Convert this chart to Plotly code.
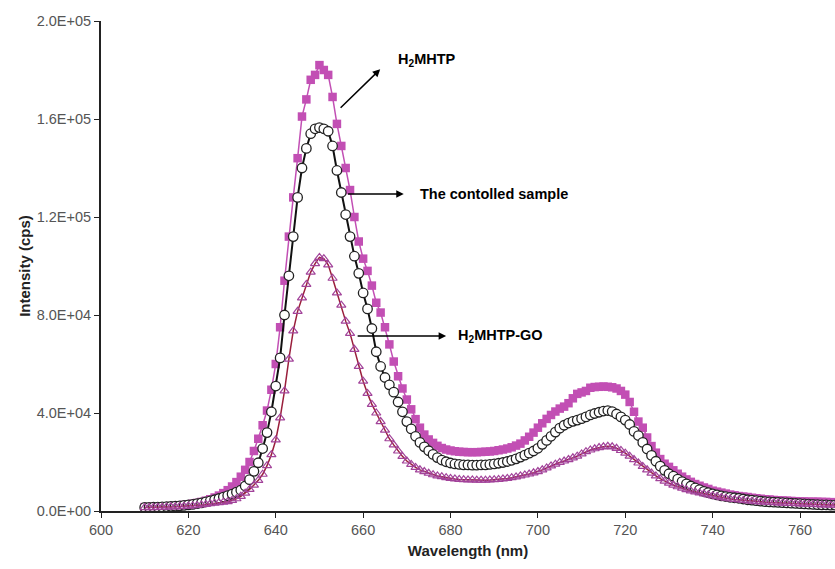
import plotly.graph_objects as go

wavelength = list(range(610, 771))

# H2MHTP (filled magenta squares), units of 1e3 cps
h2mhtp_k = [
    1.6, 1.6, 1.7, 1.7, 1.8, 1.9, 2.0, 2.1, 2.3, 2.5,          # 610-619
    2.7, 3.0, 3.3, 3.7, 4.2, 4.8, 5.5, 6.3, 7.3, 8.5,          # 620-629
    10.0, 11.8, 14.0, 16.8, 20.0, 24.5, 29.5, 35.0, 41.0, 49.5, # 630-639
    60.0, 75.0, 94.0, 112, 128, 144, 161, 168, 176, 178,        # 640-649
    182, 180, 178, 169, 158, 149, 140, 131, 120, 110,           # 650-659
    103, 98, 92, 85, 81, 75, 68, 61, 55, 50,                    # 660-669
    45.5, 41.5, 37.5, 34.0, 31.2, 29.2, 27.8, 26.6, 25.7, 25.1, # 670-679
    24.7, 24.4, 24.2, 24.1, 24.0, 24.0, 24.0, 24.1, 24.2, 24.3, # 680-689
    24.5, 24.8, 25.1, 25.5, 26.0, 26.7, 27.5, 28.8, 30.3, 32.0, # 690-699
    34.0, 35.8, 37.6, 39.2, 40.6, 41.8, 42.6, 44.0, 46.0, 47.8, # 700-709
    48.4, 49.0, 50.3, 50.6, 50.7, 50.8, 50.7, 50.5, 50.0, 49.0, # 710-719
    47.5, 44.5, 40.5, 36.5, 34.0, 30.0, 26.5, 23.8, 21.2, 19.3, # 720-729
    18.0, 16.6, 15.2, 14.0, 12.9, 11.9, 11.0, 10.3, 9.6, 9.0,   # 730-739
    8.3, 7.9, 7.5, 7.1, 6.7, 6.4, 6.1, 5.9, 5.7, 5.4,           # 740-749
    5.2, 5.0, 4.8, 4.7, 4.5, 4.4, 4.3, 4.2, 4.1, 4.0,           # 750-759
    3.9, 3.9, 3.8, 3.8, 3.8, 3.7, 3.7, 3.6, 3.6, 3.5,           # 760-769
    3.5,                                                        # 770
]

# Controlled sample (open circles, black line)
control_k = [
    1.5, 1.5, 1.6, 1.6, 1.7, 1.8, 1.9, 2.0, 2.1, 2.3,
    2.5, 2.7, 3.0, 3.3, 3.7, 4.1, 4.6, 5.1, 5.7, 6.3,
    6.9, 7.7, 8.5, 10.2, 12.8, 16.2, 19.7, 25.5, 32.0, 40.5,
    51.0, 62.5, 80.0, 96, 112, 128, 140, 148, 154, 156,
    156.5, 156, 155, 149, 139, 130, 121, 112, 104, 97,
    89, 82.5, 74.5, 65, 59, 54.5, 51.5, 48.5, 44.5, 40.5,
    36.5, 33.5, 30.5, 28.0, 26.2, 24.6, 23.1, 21.8, 20.8, 20.1,
    19.6, 19.2, 19.0, 18.8, 18.8, 18.7, 18.7, 18.8, 18.8, 19.0,
    19.2, 19.5, 19.8, 20.2, 20.7, 21.3, 22.0, 22.8, 23.6, 24.5,
    25.6, 27.2, 28.8, 30.5, 32.2, 33.8, 35.0, 35.9, 36.6, 37.1,
    37.7, 38.4, 39.2, 39.8, 40.3, 40.8, 41.0, 40.6, 39.6, 38.4,
    37.1, 35.3, 32.5, 30.8, 28.0, 25.3, 22.7, 20.3, 18.3, 16.6,
    15.2, 14.2, 13.0, 12.0, 11.1, 10.2, 9.4, 8.7, 8.0, 7.5,
    7.0, 6.6, 6.2, 5.9, 5.6, 5.4, 5.2, 4.9, 4.6, 4.4,
    4.2, 4.0, 3.8, 3.7, 3.6, 3.5, 3.4, 3.3, 3.2, 3.1,
    3.0, 2.9, 2.8, 2.7, 2.6, 2.5, 2.5, 2.4, 2.4, 2.3,
    2.3,
]

# H2MHTP-GO (open triangles, dark red line)
go_k = [
    1.4, 1.4, 1.4, 1.5, 1.5, 1.6, 1.7, 1.7, 1.8, 1.9,
    2.0, 2.1, 2.3, 2.5, 2.7, 3.0, 3.2, 3.4, 3.6, 3.8,
    4.3, 5.0, 6.0, 7.3, 8.8, 10.6, 12.5, 15.0, 18.5, 23.0,
    29.0, 38.0, 49.0, 62.0, 73.5, 81.5, 87.0, 92.5, 97.5, 101.0,
    103.5, 103.0, 100.5, 95.0, 89.0, 84.0, 77.5, 72.5, 66.0, 59.0,
    53.0, 48.0, 43.5, 40.0, 36.5, 33.0, 29.5, 27.0, 24.5, 22.3,
    20.4, 19.0, 17.8, 16.8, 16.1, 15.4, 14.8, 14.3, 14.0, 13.6,
    13.3, 13.1, 12.9, 12.8, 12.7, 12.7, 12.6, 12.6, 12.6, 12.7,
    12.8, 12.9, 13.1, 13.3, 13.6, 13.9, 14.3, 14.7, 15.1, 15.6,
    16.1, 16.8, 17.6, 18.4, 19.1, 19.8, 20.4, 21.0, 21.7, 22.4,
    23.3, 24.2, 24.9, 25.4, 25.9, 26.2, 26.4, 26.2, 25.6, 24.7,
    23.6, 22.4, 21.0, 19.6, 18.2, 16.8, 15.5, 14.3, 13.2, 12.2,
    11.4, 10.6, 9.9, 9.3, 8.7, 8.2, 7.8, 7.4, 7.0, 6.6,
    6.2, 5.9, 5.5, 5.2, 4.9, 4.7, 4.5, 4.3, 4.1, 4.0,
    3.8, 3.7, 3.6, 3.5, 3.4, 3.3, 3.2, 3.1, 3.1, 3.0,
    2.9, 2.8, 2.8, 2.7, 2.6, 2.5, 2.5, 2.4, 2.4, 2.3,
    2.3,
]

y_tickvals = [0, 40000, 80000, 120000, 160000, 200000]
y_ticktext = ["0.0E+00", "4.0E+04", "8.0E+04", "1.2E+05", "1.6E+05", "2.0E+05"]
x_tickvals = [600, 620, 640, 660, 680, 700, 720, 740, 760]

h2mhtp = [v * 1000 for v in h2mhtp_k]
control = [v * 1000 for v in control_k]
go_vals = [v * 1000 for v in go_k]

fig = go.Figure()
fig.add_trace(go.Scatter(
    x=wavelength, y=h2mhtp, mode="lines+markers", name="H2MHTP",
    line=dict(color="#C24FB4", width=1.5),
    marker=dict(symbol="square", size=8.5, color="#C24FB4", line=dict(width=0)),
))
fig.add_trace(go.Scatter(
    x=wavelength, y=control, mode="lines+markers", name="The contolled sample",
    line=dict(color="#111111", width=2),
    marker=dict(symbol="circle", size=9.5, color="white", line=dict(color="#222222", width=1.3)),
))
fig.add_trace(go.Scatter(
    x=wavelength, y=go_vals, mode="lines+markers", name="H2MHTP-GO",
    line=dict(color="#9A1F3C", width=1.5),
    marker=dict(symbol="triangle-up-open", size=8, color="#A2439A", line=dict(color="#A2439A", width=1.2)),
))

arrow = dict(showarrow=True, arrowhead=2, arrowsize=1, arrowwidth=1.5, arrowcolor="black",
             axref="x", ayref="y", text="")
fig.add_annotation(x=663.9, y=180300, ax=654.5, ay=164000, **arrow)
fig.add_annotation(x=669.3, y=129400, ax=656.2, ay=129400, **arrow)
fig.add_annotation(x=679.0, y=71430, ax=658.4, ay=71430, **arrow)

lab_font = dict(family="Liberation Sans, Arial, sans-serif", size=14.5, color="black")
fig.add_annotation(x=667.6, y=184100, text="<b>H<sub>2</sub>MHTP</b>", showarrow=False,
                   xanchor="left", font=lab_font)
fig.add_annotation(x=672.5, y=129400, text="<b>The contolled sample</b>", showarrow=False,
                   xanchor="left", font=lab_font)
fig.add_annotation(x=681.3, y=71430, text="<b>H<sub>2</sub>MHTP-GO</b>", showarrow=False,
                   xanchor="left", font=lab_font)

axis_font = dict(family="Liberation Sans, Arial, sans-serif", size=14.5, color="#555555")
title_font = dict(family="Liberation Sans, Arial, sans-serif", size=15, color="#222222")

fig.update_layout(
    width=835, height=569,
    margin=dict(l=101, r=0, t=21, b=58),
    paper_bgcolor="white", plot_bgcolor="white",
    showlegend=False,
    xaxis=dict(
        range=[600, 768], tickvals=x_tickvals, showgrid=False, zeroline=False,
        showline=True, linecolor="#222222", linewidth=2,
        ticks="outside", ticklen=5, tickcolor="#222222",
        tickfont=axis_font,
        title=dict(text="<b>Wavelength (nm)</b>", font=title_font, standoff=8),
    ),
    yaxis=dict(
        range=[0, 200000], tickvals=y_tickvals, ticktext=y_ticktext,
        showgrid=False, zeroline=False,
        showline=True, linecolor="#222222", linewidth=2,
        ticks="outside", ticklen=5, tickcolor="#222222",
        tickfont=axis_font,
        title=dict(text="<b>Intensity (cps)</b>", font=title_font, standoff=2),
    ),
)

fig.write_html("out.html")
